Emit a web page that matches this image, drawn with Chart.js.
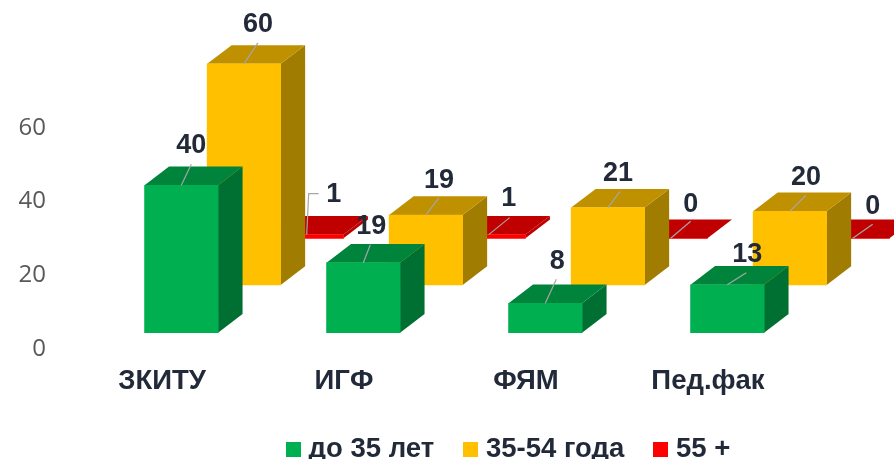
<!DOCTYPE html>
<html>
<head>
<meta charset="utf-8">
<style>html,body{margin:0;padding:0;background:#fff}canvas{display:block}</style>
<script src="https://cdn.jsdelivr.net/npm/chart.js@4"></script>
</head>
<body>
<canvas id="c" width="894" height="459"></canvas>
<script>
const categories = ['ЗКИТУ', 'ИГФ', 'ФЯМ', 'Пед.фак'];
const under35 = [40, 19, 8, 13];
const from35to54 = [60, 19, 21, 20];
const over55 = [1, 1, 0, 0];
const seriesNames = ['до 35 лет', '35-54 года', '55 +'];
const yTicks = [0, 20, 40, 60];

const TEXT = '#222A3A';
const BOLD = '"Liberation Sans", Arial, sans-serif';
const DEPTH_X = 24.5, DEPTH_Y = 18.7;

// per-series look and the pseudo-3D floor shift
const looks = [
  {front: '#00B050', top: '#00843C', side: '#006F32', dx: 19.3, dy: -16.3},
  {front: '#FFC000', top: '#BF9000', side: '#A07C00', dx: 81.9, dy: -64},
  {front: '#FF0000', top: '#C00000', side: '#C00000', dx: 144.7, dy: -110.7}
];
// label centre relative to the bar's top-front centre
const labelOffsets = [
  [[10, -40], [8, -36], [12, -42], [20, -30]],
  [[14, -39], [13, -34], [10, -34], [16, -34]],
  [[27, -40], [20, -36], [20, -34], [20, -32]]
];
// leader end relative to the bar's top-front centre
const leaderEnds = [
  [[10, -21], [7, -18], [11, -24], [19, -12]],
  [[14, -21], [13, -17], [12, -16], [16, -16]],
  [[2, -41, 12, -41], [21, -17], [20, -17], [20, -14]]
];

function box(color) {
  const b = document.createElement('canvas');
  b.width = 15; b.height = 15;
  const g = b.getContext('2d');
  g.fillStyle = color; g.fillRect(0, 0, 15, 15);
  return b;
}

const poly = (ctx, color, pts) => {
  ctx.fillStyle = color;
  ctx.beginPath();
  pts.forEach((p, i) => i ? ctx.lineTo(p[0], p[1]) : ctx.moveTo(p[0], p[1]));
  ctx.closePath();
  ctx.fill();
};

const pseudo3d = {
  id: 'pseudo3d',
  afterDatasetsUpdate(chart) {
    chart.data.datasets.forEach((d, i) => {
      chart.getDatasetMeta(i).data.forEach(el => {
        el.x += looks[i].dx;
        el.y += looks[i].dy;
        el.base += looks[i].dy;
      });
    });
  },
  afterLayout(chart) {
    const L = chart.legend;
    const dx = 111.5, dy = 0;
    L.left += dx; L.right += dx; L.top += dy; L.bottom += dy;
  },
  beforeDatasetDraw(chart, args) {
    const ctx = chart.ctx, look = looks[args.index];
    chart.getDatasetMeta(args.index).data.forEach(el => {
      const l = el.x - el.width / 2, r = el.x + el.width / 2, t = el.y, b = el.base;
      ctx.save();
      poly(ctx, look.side, [[r, t], [r + DEPTH_X, t - DEPTH_Y], [r + DEPTH_X, b - DEPTH_Y], [r, b]]);
      poly(ctx, look.top, [[l, t], [l + DEPTH_X, t - DEPTH_Y], [r + DEPTH_X, t - DEPTH_Y], [r, t]]);
      ctx.restore();
    });
  },
  afterDatasetsDraw(chart) {
    const ctx = chart.ctx;
    ctx.save();
    chart.data.datasets.forEach((d, i) => {
      chart.getDatasetMeta(i).data.forEach((el, j) => {
        const e = leaderEnds[i][j], o = labelOffsets[i][j];
        ctx.strokeStyle = '#A6A6A6';
        ctx.lineWidth = 1.2;
        ctx.beginPath();
        ctx.moveTo(el.x, el.y);
        ctx.lineTo(el.x + e[0], el.y + e[1]);
        if (e.length > 2) ctx.lineTo(el.x + e[2], el.y + e[3]);
        ctx.stroke();
        ctx.fillStyle = TEXT;
        ctx.font = 'bold 27px ' + BOLD;
        ctx.textAlign = 'center';
        ctx.textBaseline = 'middle';
        ctx.fillText(String(d.data[j]), el.x + o[0], el.y + o[1]);
      });
    });
    ctx.restore();
  }
};

new Chart(document.getElementById('c'), {
  type: 'bar',
  data: {
    labels: categories,
    datasets: [under35, from35to54, over55].map((values, i) => ({
      label: seriesNames[i],
      data: values,
      backgroundColor: looks[i].front,
      borderWidth: 0,
      grouped: false,
      barThickness: 73.5,
      clip: false,
      pointStyle: box(looks[i].front)
    }))
  },
  options: {
    responsive: false,
    animation: false,
    layout: {padding: {top: 15.5, right: 95, bottom: -14.5, left: 0}},
    scales: {
      x: {
        grid: {display: false, drawTicks: false},
        border: {display: false},
        ticks: {color: TEXT, font: {family: BOLD, size: 27.5, weight: 'bold'}, padding: 16, maxRotation: 0},
        afterFit(s) { s.height = 52; }
      },
      y: {
        min: 0,
        max: 84,
        grid: {display: false, drawTicks: false},
        border: {display: false},
        ticks: {color: '#595959', font: {family: '"Open Sans", sans-serif', size: 24}, padding: 25},
        afterBuildTicks(s) { s.ticks = yTicks.map(v => ({value: v})); },
        afterFit(s) { s.width = 71; }
      }
    },
    plugins: {
      tooltip: {enabled: false},
      legend: {
        position: 'bottom',
        labels: {
          color: TEXT,
          font: {family: BOLD, size: 27.5, weight: 'bold'},
          usePointStyle: true,
          pointStyleWidth: 3,
          boxHeight: 15,
          padding: 35
        }
      }
    }
  },
  plugins: [pseudo3d]
});
</script>
</body>
</html>
